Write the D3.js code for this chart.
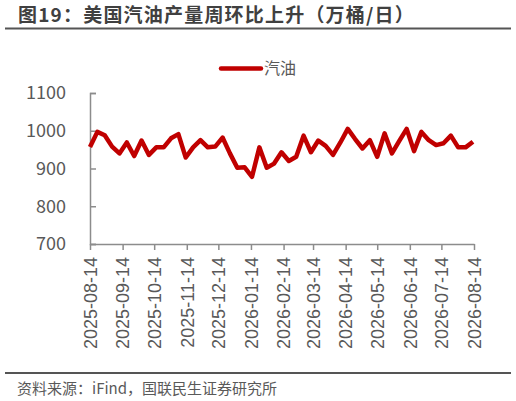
<!DOCTYPE html>
<html><head><meta charset="utf-8">
<script src="https://cdn.jsdelivr.net/npm/d3@7"></script>
<style>
body{margin:0;background:#fff;}
svg{display:block;font-family:"Noto Sans CJK SC","Noto Sans",sans-serif;}
</style></head>
<body><svg id="c" width="516" height="401"></svg>
<script>
const titleText = "图19：美国汽油产量周环比上升（万桶/日）";
const sourceText = "资料来源：iFind，国联民生证券研究所";
const seriesName = "汽油";
const dates = ["2025-08-14","2025-08-21","2025-08-28","2025-09-04","2025-09-11","2025-09-18","2025-09-25","2025-10-02","2025-10-09","2025-10-16","2025-10-23","2025-10-30","2025-11-06","2025-11-13","2025-11-20","2025-11-27","2025-12-04","2025-12-11","2025-12-18","2025-12-25","2026-01-01","2026-01-08","2026-01-15","2026-01-22","2026-01-29","2026-02-05","2026-02-12","2026-02-19","2026-02-26","2026-03-05","2026-03-12","2026-03-19","2026-03-26","2026-04-02","2026-04-09","2026-04-16","2026-04-23","2026-04-30","2026-05-07","2026-05-14","2026-05-21","2026-05-28","2026-06-04","2026-06-11","2026-06-18","2026-06-25","2026-07-02","2026-07-09","2026-07-16","2026-07-23","2026-07-30","2026-08-06","2026-08-13"];
const gasoline = [957,997,988,958,940,969,933,974,936,956,956,980,991,929,956,975,956,958,982,940,902,903,878,956,902,913,943,920,931,987,943,974,960,936,969,1005,978,953,975,931,993,940,973,1005,946,997,975,962,967,987,956,956,971];
const xTickLabels = ["2025-08-14","2025-09-14","2025-10-14","2025-11-14","2025-12-14","2026-01-14","2026-02-14","2026-03-14","2026-04-14","2026-05-14","2026-06-14","2026-07-14","2026-08-14"];
const yTicks = [700,800,900,1000,1100];

const parse = d3.utcParse("%Y-%m-%d");
const svg = d3.select("#c");
const pL = 90, pR = 474, pT = 93, pB = 244;

// title
svg.append("text").attr("x",18).attr("y",21.5).attr("font-size",19).attr("font-weight","bold")
  .attr("letter-spacing",1.2).attr("fill","#404040").text(titleText);
svg.append("line").attr("x1",5).attr("x2",511).attr("y1",28.5).attr("y2",28.5).attr("stroke","#555").attr("stroke-width",2);

const x = d3.scaleUtc().domain([parse(xTickLabels[0]), parse(xTickLabels[xTickLabels.length-1])]).range([pL,pR]);
const y = d3.scaleLinear().domain([700,1100]).range([pB,pT]);

// y axis
const ya = svg.append("g").attr("transform",`translate(${pL},0)`)
  .call(d3.axisLeft(y).tickValues(yTicks).tickSize(-6).tickPadding(24).tickFormat(d3.format("d")));
ya.select(".domain").attr("stroke","#8c8c8c").attr("stroke-width",1.5);
ya.selectAll(".tick line").attr("stroke","#8c8c8c").attr("stroke-width",1.5);
ya.selectAll("text").attr("font-size",18).attr("fill","#595959").attr("font-family","Noto Sans CJK SC");

// x axis
const xa = svg.append("g").attr("transform",`translate(0,${pB})`)
  .call(d3.axisBottom(x).tickValues(xTickLabels.map(parse)).tickSize(6).tickSizeOuter(0).tickFormat(d3.utcFormat("%Y-%m-%d")));
xa.select(".domain").attr("stroke","#8c8c8c").attr("stroke-width",1.5);
xa.selectAll(".tick line").attr("stroke","#8c8c8c").attr("stroke-width",1.5);
xa.selectAll("text").attr("font-size",18).attr("fill","#595959")
  .attr("transform","rotate(-90)").attr("text-anchor","end").attr("dy","0.35em").attr("x",-13).attr("y",0);

// line
const line = d3.line().x((d,i)=>x(parse(dates[i]))).y(d=>y(d));
svg.append("path").datum(gasoline).attr("d",line).attr("fill","none").attr("stroke","#C00000").attr("stroke-width",4.5).attr("stroke-linejoin","round");

// legend
svg.append("line").attr("x1",221).attr("x2",261).attr("y1",68.5).attr("y2",68.5).attr("stroke","#C00000").attr("stroke-width",4.5).attr("stroke-linecap","round");
svg.append("text").attr("x",264).attr("y",74).attr("font-size",16).attr("fill","#595959").text(seriesName);

// footer
svg.append("line").attr("x1",5).attr("x2",511).attr("y1",373).attr("y2",373).attr("stroke","#555").attr("stroke-width",2);
svg.append("text").attr("x",17).attr("y",394).attr("font-size",15).attr("fill","#595959").text(sourceText);
</script></body></html>
